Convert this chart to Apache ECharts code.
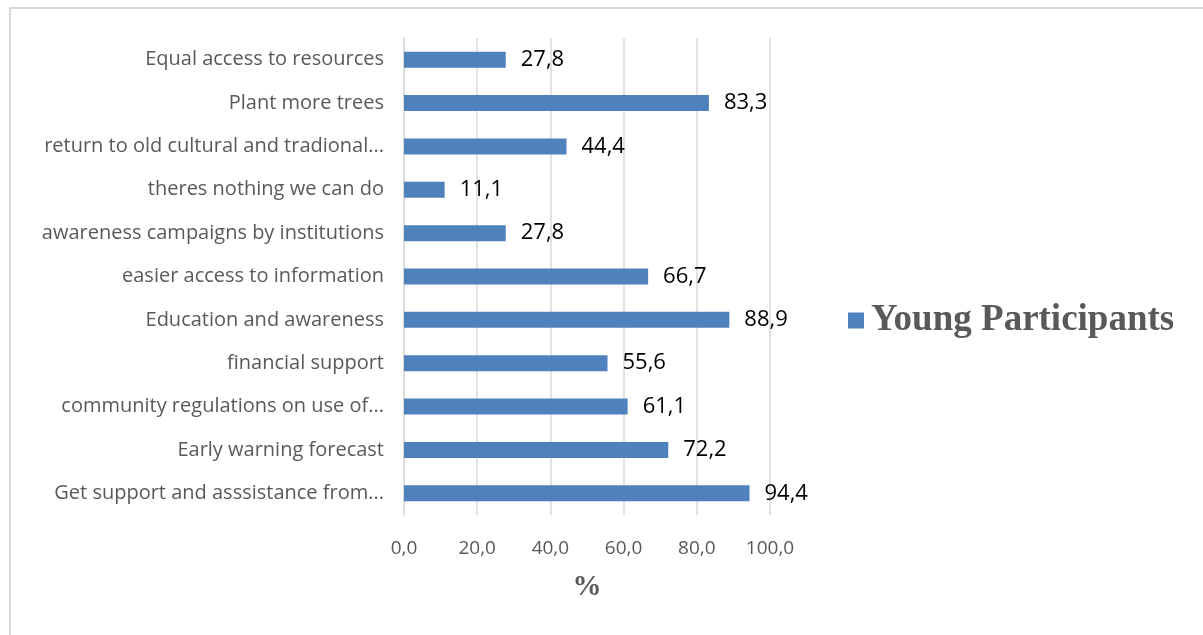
<!DOCTYPE html>
<html>
<head>
<meta charset="utf-8">
<script src="https://cdn.jsdelivr.net/npm/echarts@6/dist/echarts.min.js"></script>
<style>
  html, body { margin: 0; padding: 0; background: #fff; }
  #frame { position: absolute; left: 9px; top: 7px; width: 1194px; height: 628px;
           border-top: 2px solid #d9d9d9; border-left: 2px solid #d9d9d9; box-sizing: border-box; }
  #chart { width: 1203px; height: 635px; }
</style>
</head>
<body>
<div id="frame"></div>
<div id="chart"></div>
<script>
// Responses, listed top to bottom
const categories = [
  'Equal access to resources',
  'Plant more trees',
  'return to old cultural and tradional...',
  'theres nothing we can do',
  'awareness campaigns by institutions',
  'easier access to information',
  'Education and awareness',
  'financial support',
  'community regulations on use of...',
  'Early warning forecast',
  'Get support and asssistance from...'
];
const seriesName = 'Young Participants';
const values = [27.8, 83.3, 44.4, 11.1, 27.8, 66.7, 88.9, 55.6, 61.1, 72.2, 94.4];
const xTicks = [0, 20, 40, 60, 80, 100];

const fmt = v => Number(v).toFixed(1).replace('.', ',');

const chart = echarts.init(document.getElementById('chart'), null, { renderer: 'canvas' });
chart.setOption({
  animation: false,
  backgroundColor: 'transparent',
  grid: { left: 404, right: 433, top: 38, bottom: 120, containLabel: false },
  legend: {
    data: [seriesName],
    left: 843, top: 297,
    icon: 'rect', itemWidth: 16, itemHeight: 16, itemGap: 8,
    textStyle: { fontFamily: 'Liberation Serif', fontWeight: 'bold', fontSize: 37, color: '#595959', padding: [0, 0, 0, 2] }
  },
  xAxis: {
    type: 'value',
    min: xTicks[0], max: xTicks[xTicks.length - 1], interval: 20,
    name: '%', nameLocation: 'middle', nameGap: 58,
    nameTextStyle: { fontFamily: 'Liberation Serif', fontWeight: 'bold', fontSize: 29, color: '#595959' },
    axisLine: { show: false }, axisTick: { show: false },
    axisLabel: { formatter: fmt, fontFamily: 'Open Sans', fontSize: 19, color: '#595959', margin: 24 },
    splitLine: { show: true, lineStyle: { color: '#d9d9d9', width: 1.5 } }
  },
  yAxis: {
    type: 'category', data: categories, inverse: true,
    axisLine: { show: true, lineStyle: { color: '#d9d9d9', width: 1.5 } },
    axisTick: { show: false },
    axisLabel: { fontFamily: 'Open Sans', fontSize: 20, color: '#595959', margin: 20 }
  },
  series: [{
    name: seriesName, type: 'bar', data: values, barWidth: 16,
    itemStyle: { color: '#4f81bd' },
    label: { show: true, position: 'right', distance: 15, formatter: p => fmt(p.value),
             fontFamily: 'Open Sans', fontSize: 22, color: '#000' }
  }]
});
</script>
</body>
</html>
